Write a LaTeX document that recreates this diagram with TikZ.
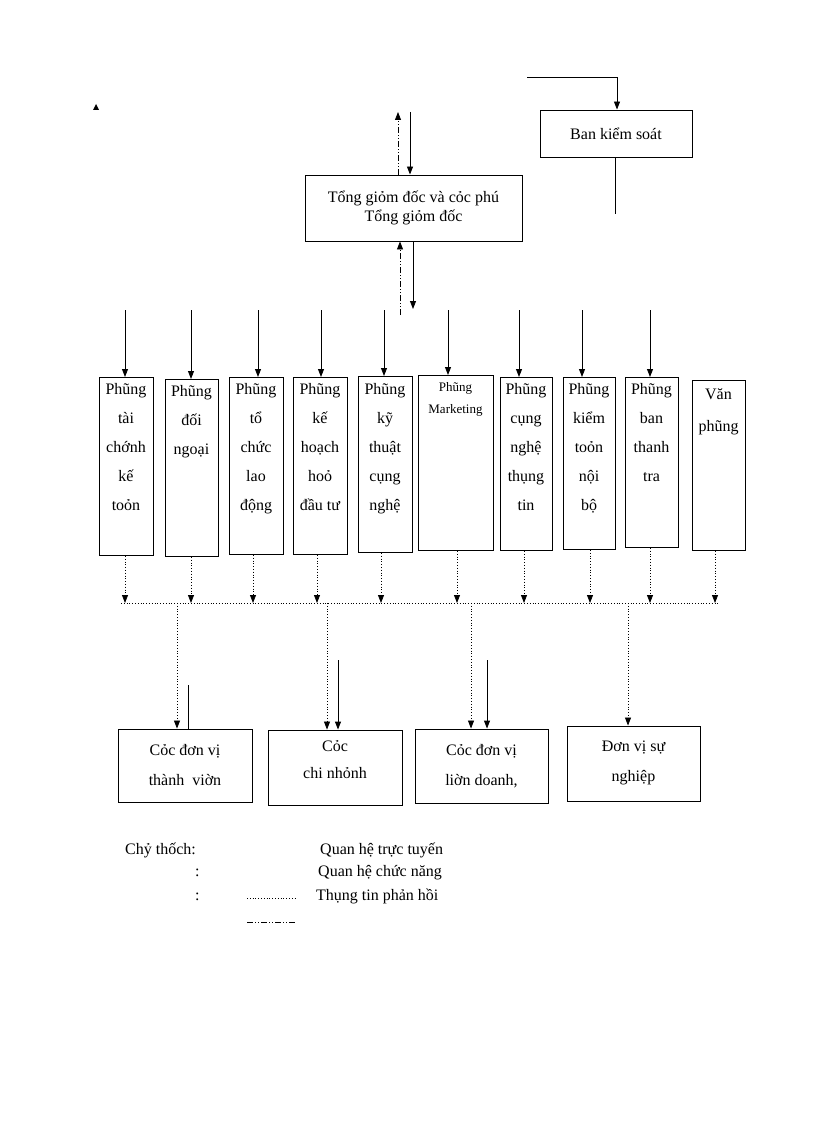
\documentclass[tikz,border=0pt]{standalone}
\usepackage{fontspec}
\setmainfont{Liberation Serif}
\usetikzlibrary{arrows.meta}
\begin{document}
\begin{tikzpicture}[x=1pt,y=-1pt,
 bx/.style={draw,line width=0.9pt,inner sep=0pt,font=\fontsize{16}{18}\selectfont},
 dept/.style={bx,anchor=north west,align=center},
 sol/.style={line width=0.9pt,-{Triangle[length=8pt,width=6pt]}},
 dotl/.style={line width=0.8pt,dotted},
 dota/.style={dotl,-{Triangle[length=8pt,width=6pt]}},
 dda/.style={line width=0.8pt,dash pattern=on 6pt off 2pt on 1pt off 2pt on 1pt off 2pt,-{Triangle[length=8pt,width=6pt]}},
 lg/.style={anchor=west,font=\fontsize{16}{18}\selectfont,inner sep=0pt}]
\useasboundingbox (0,0) rectangle (816,1123);
\fill (96,104) -- (93,110) -- (99,110) -- cycle;
% top boxes
\node[bx,minimum width=152pt,minimum height=47pt] (bks) at (616,133.5) {Ban kiểm soát};
\node[bx,minimum width=217pt,minimum height=66pt,align=center,font=\fontsize{16}{19}\selectfont] (tgd) at (413.5,208) {Tổng giỏm đốc và cỏc phú\\Tổng giỏm đốc};
\coordinate (k1) at (527,77); \coordinate (k2) at (617,77);
\draw[sol] (k1) -- (k2) -- (bks.north -| k2);
\coordinate (k3) at (615,214);
\draw[line width=0.9pt] (bks.south -| k3) -- (k3);
\coordinate (u1) at (398,112); \coordinate (u2) at (410,112);
\draw[dda] (tgd.north -| u1) -- (u1);
\draw[sol] (u2) -- (tgd.north -| u2);
\coordinate (u3) at (400,315); \coordinate (u4) at (413,309);
\draw[dda] (u3) -- (tgd.south -| u3);
\draw[sol] (tgd.south -| u4) -- (u4);
% departments
\def\ls{\fontsize{16}{29}\selectfont}
\node[dept,minimum width=54pt,minimum height=178pt] (d1) at (99,377) {}; \node[anchor=north,align=center,font=\ls] at (126,380) {Phũng\\tài\\chớnh\\kế\\toỏn};
\node[dept,minimum width=53pt,minimum height=177pt] (d2) at (165,379) {}; \node[anchor=north,align=center,font=\ls] at (191.5,382) {Phũng\\đối\\ngoại};
\node[dept,minimum width=54pt,minimum height=177pt] (d3) at (229,377) {}; \node[anchor=north,align=center,font=\ls] at (256,380) {Phũng\\tổ\\chức\\lao\\động};
\node[dept,minimum width=54pt,minimum height=177pt] (d4) at (293,377) {}; \node[anchor=north,align=center,font=\ls] at (320,380) {Phũng\\kế\\hoạch\\hoỏ\\đầu tư};
\node[dept,minimum width=54pt,minimum height=176pt] (d5) at (358,376) {}; \node[anchor=north,align=center,font=\ls] at (385,380) {Phũng\\kỹ\\thuật\\cụng\\nghệ};
\node[dept,minimum width=75pt,minimum height=175pt] (d6) at (418,375) {}; \node[anchor=north,align=center,font=\fontsize{13}{22}\selectfont] at (455.5,379) {Phũng\\Marketing};
\node[dept,minimum width=52pt,minimum height=173pt] (d7) at (500,377) {}; \node[anchor=north,align=center,font=\ls] at (526,380) {Phũng\\cụng\\nghệ\\thụng\\tin};
\node[dept,minimum width=52pt,minimum height=172pt] (d8) at (563,377) {}; \node[anchor=north,align=center,font=\ls] at (589,380) {Phũng\\kiểm\\toỏn\\nội\\bộ};
\node[dept,minimum width=53pt,minimum height=170pt] (d9) at (625,377) {}; \node[anchor=north,align=center,font=\ls] at (651.5,380) {Phũng\\ban\\thanh\\tra};
\node[dept,minimum width=53pt,minimum height=170pt] (d10) at (692,380) {}; \node[anchor=north,align=center,font=\fontsize{16}{32}\selectfont] at (718.5,385) {Văn\\phũng};
% arrows into departments
\foreach \n/\x in {1/125,2/191,3/258,4/321,5/384,6/448,7/519,8/582,9/650}{
  \coordinate (t\n) at (\x,310);
  \draw[sol] (t\n) -- (d\n.north -| t\n);
}
% dotted out of departments
\foreach \n/\x in {1/125,2/191,3/253,4/317,5/381,6/457,7/524,8/590,9/650,10/715}{
  \coordinate (b\n) at (\x,603);
  \draw[dota] (d\n.south -| b\n) -- (b\n);
}
\coordinate (hl) at (121,603); \coordinate (hr) at (720,603);
\draw[dotl] (hl) -- (hr);
% bottom boxes
\node[bx,minimum width=134pt,minimum height=73pt] (e1) at (185,765.5) {};
\node[align=center,font=\fontsize{16}{30}\selectfont] at (185,765) {Cỏc đơn vị\\thành\ \ viờn};
\node[bx,minimum width=134pt,minimum height=75pt] (e2) at (335,767.5) {};
\node[align=center,font=\fontsize{16}{27}\selectfont] at (335,760) {Cỏc\\chi nhỏnh};
\node[bx,minimum width=133pt,minimum height=74pt] (e3) at (481.5,766) {};
\node[align=center,font=\fontsize{16}{30}\selectfont] at (481.5,766) {Cỏc đơn vị\\liờn doanh,};
\node[bx,minimum width=133pt,minimum height=75pt] (e4) at (633.5,763.5) {};
\node[align=center,font=\fontsize{16}{30}\selectfont] at (633.5,763) {Đơn vị sự\\nghiệp};
\foreach \n/\x in {1/177,2/327,3/471,4/628}{
  \coordinate (f\n) at (\x,603);
  \draw[dota] (f\n) -- (e\n.north -| f\n);
}
\coordinate (g1) at (188,685); \coordinate (g2) at (338,660); \coordinate (g3) at (487,660);
\draw[line width=0.9pt] (g1) -- (e1.north -| g1);
\draw[sol] (g2) -- (e2.north -| g2);
\draw[sol] (g3) -- (e3.north -| g3);
% legend
\node[lg] (l0) at (125,850) {Chỷ thốch:};
\node[lg] (l1) at (320,850) {Quan hệ trực tuyến};
\node[lg] (l2) at (318,873) {Quan hệ chức năng};
\node[lg] (l3) at (316,896) {Thụng tin phản hồi};
\node[lg] (c1) at (195,873) {:};
\node[lg] (c2) at (195,897) {:};
\coordinate (m1) at (247,898); \coordinate (m2) at (296,898);
\draw[dotl] (m1) -- (m2);
\coordinate (m3) at (247,922); \coordinate (m4) at (296,922);
\draw[line width=0.8pt,dash pattern=on 6pt off 2pt on 1pt off 2pt on 1pt off 2pt] (m3) -- (m4);
\end{tikzpicture}
\end{document}
